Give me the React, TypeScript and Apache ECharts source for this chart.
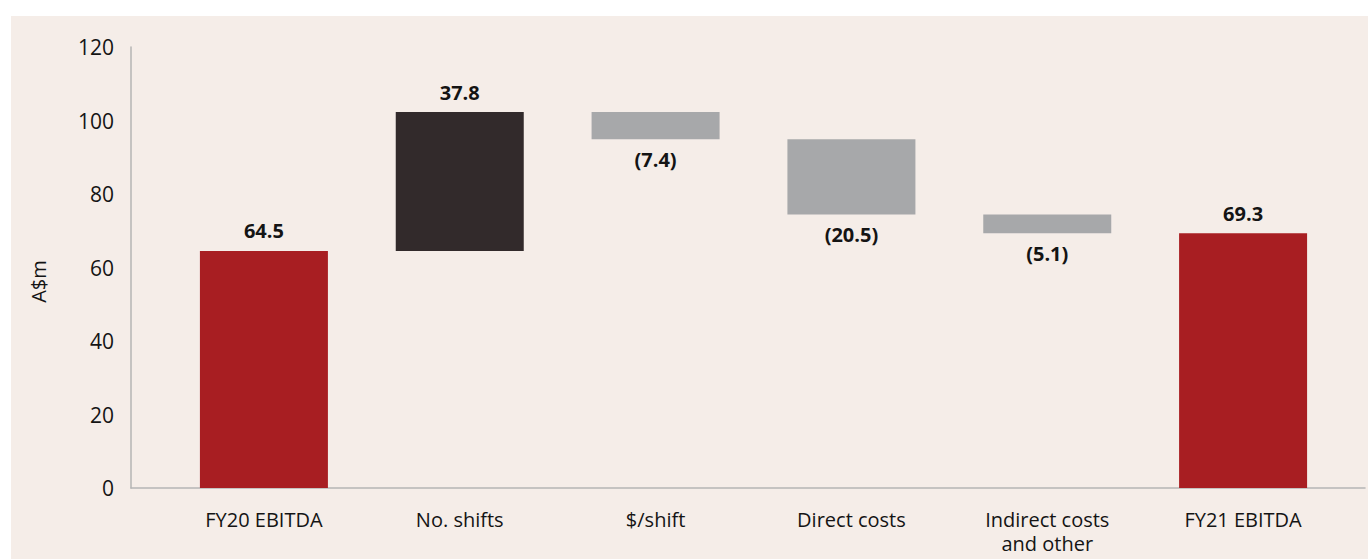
import React, { useEffect, useRef } from "react";
import * as echarts from "echarts";

const categories = ["FY20 EBITDA", "No. shifts", "$/shift", "Direct costs", "Indirect costs\nand other", "FY21 EBITDA"];
const startValue = 64.5;
const changes = [37.8, -7.4, -20.5, -5.1];
const endValue = 69.3;
const yTicks = { min: 0, max: 120, interval: 20 };

const RED = "#a81e22";
const DARK = "#322a2b";
const GREY = "#a7a8aa";
const BG = "#f5ede8";
const TEXT = "#141414";
const FONT = "'Open Sans', 'Noto Sans', sans-serif";

export default function App() {
  const ref = useRef<HTMLDivElement>(null);
  useEffect(() => {
    if (!ref.current) return;
    const chart = echarts.init(ref.current, undefined, { renderer: "svg" });

    const base: number[] = [0];
    const visible: any[] = [];
    visible.push({ value: startValue, itemStyle: { color: RED }, label: { position: "top", formatter: startValue.toFixed(1) } });
    let running = startValue;
    changes.forEach((c) => {
      const next = running + c;
      base.push(Math.min(running, next));
      const pos = c >= 0;
      visible.push({
        value: Math.abs(c),
        itemStyle: { color: pos ? DARK : GREY },
        label: pos
          ? { position: "top", formatter: c.toFixed(1) }
          : { position: "bottom", distance: 10, formatter: `(${Math.abs(c).toFixed(1)})` },
      });
      running = next;
    });
    base.push(0);
    visible.push({ value: endValue, itemStyle: { color: RED }, label: { position: "top", formatter: endValue.toFixed(1) } });

    chart.setOption({
      animation: false,
      backgroundColor: BG,
      grid: [
        { left: 155, right: 27, top: 31, bottom: 71 },
        { left: 120, right: 3, top: 31, bottom: 71 },
      ],
      xAxis: [
        {
          type: "category",
          gridIndex: 0,
          data: categories,
          axisLine: { show: false },
          axisTick: { show: false },
          axisLabel: { color: TEXT, fontFamily: FONT, fontSize: 20, margin: 19, lineHeight: 24, interval: 0 },
        },
        {
          type: "category",
          gridIndex: 1,
          data: [""],
          axisLine: { show: true, lineStyle: { color: "#b5b5b5", width: 1.5 } },
          axisTick: { show: false },
          axisLabel: { show: false },
        },
      ],
      yAxis: [
        {
          type: "value",
          gridIndex: 0,
          ...yTicks,
          axisLine: { show: false },
          axisTick: { show: false },
          axisLabel: { show: false },
          splitLine: { show: false },
        },
        {
          type: "value",
          gridIndex: 1,
          ...yTicks,
          name: "A$m",
          nameLocation: "middle",
          nameGap: 83,
          nameTextStyle: { color: TEXT, fontFamily: FONT, fontSize: 20, padding: [0, 0, 0, -28] },
          axisLine: { show: true, lineStyle: { color: "#b5b5b5", width: 1.5 } },
          axisTick: { show: false },
          axisLabel: { color: TEXT, fontFamily: FONT, fontSize: 21, margin: 17 },
          splitLine: { show: false },
        },
      ],
      series: [
        {
          type: "bar",
          stack: "w",
          xAxisIndex: 0,
          yAxisIndex: 0,
          data: base,
          itemStyle: { color: "transparent" },
          barWidth: 128,
          silent: true,
        },
        {
          type: "bar",
          stack: "w",
          xAxisIndex: 0,
          yAxisIndex: 0,
          data: visible,
          barWidth: 128,
          label: { show: true, color: TEXT, fontFamily: FONT, fontSize: 20, fontWeight: "bold", distance: 10 },
        },
      ],
    });
    return () => chart.dispose();
  }, []);

  return (
    <div style={{ position: "absolute", left: 0, top: 0, width: 1368, height: 559, background: "#ffffff" }}>
      <div ref={ref} style={{ position: "absolute", left: 11, top: 16, width: 1357, height: 543 }} />
    </div>
  );
}
